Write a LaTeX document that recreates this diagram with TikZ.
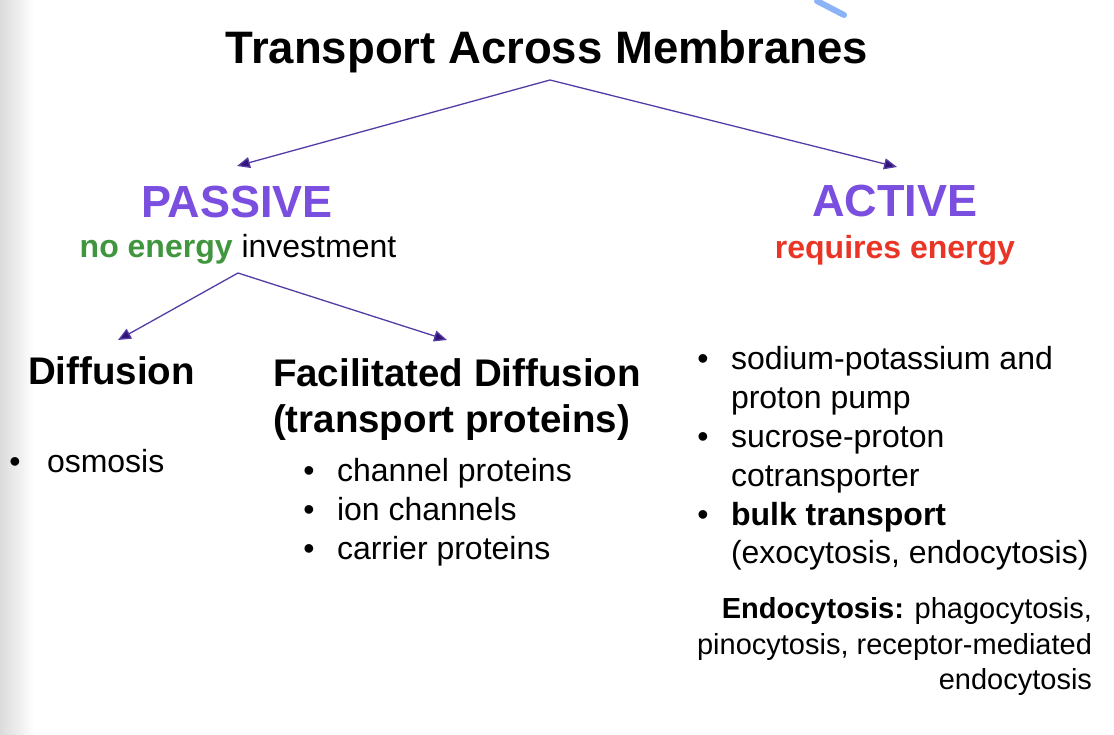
\documentclass[tikz,border=0pt]{standalone}
\usepackage{fontspec}
\setmainfont{Liberation Sans}
\usetikzlibrary{arrows.meta}
\definecolor{purp}{RGB}{122,78,222}
\definecolor{grn}{RGB}{64,150,62}
\definecolor{redt}{RGB}{234,52,38}
\definecolor{arr}{RGB}{85,60,165}
\definecolor{arrhead}{RGB}{50,20,120}
\definecolor{pen}{RGB}{110,160,245}
\begin{document}
\begin{tikzpicture}[x=1pt,y=-1pt,
  txt/.style={inner sep=0pt,outer sep=0pt},
  titletext/.style={txt,font=\fontsize{45.5}{52}\selectfont\bfseries},
  headtext/.style={txt,font=\fontsize{45}{52}\selectfont\bfseries,text=purp},
  subtext/.style={txt,font=\fontsize{32}{38}\selectfont},
  secttext/.style={txt,font=\fontsize{38.5}{46}\selectfont\bfseries},
  itemtext/.style={txt,font=\fontsize{32}{38}\selectfont},
  smalltext/.style={txt,font=\fontsize{29}{35}\selectfont},
  link/.style={draw=arr,line width=1.3pt,-{Triangle[length=13pt,width=11pt,fill=arrhead]}}]
\useasboundingbox (0,0) rectangle (1114,734);
\fill[white] (0,0) rectangle (1114,734);
\shade[left color=black!14,right color=white] (0,0) rectangle (34,734);
\draw[pen,line width=6pt,line cap=round,opacity=0.8] (817,1) -- (844,15);

% title and headings
\node[titletext,anchor=base] (title) at (547,63) {Transport Across Membranes};
\node[headtext,anchor=base] (passive) at (237,217) {PASSIVE};
\node[headtext,anchor=base] (active) at (895,216) {ACTIVE};
\node[subtext,anchor=base] (noen) at (238,257) {\textcolor{grn}{\bfseries no energy} investment};
\node[subtext,anchor=base,text=redt] (reqen) at (895,258) {\bfseries requires energy};

% connectors
\coordinate (t0) at (550,80);
\coordinate (tl) at (237,166);
\coordinate (tr) at (897,167);
\coordinate (p0) at (238,273);
\coordinate (pl) at (118,340);
\coordinate (pr) at (447,340);
\draw[link] (t0) -- (tl);
\draw[link] (t0) -- (tr);
\draw[link] (p0) -- (pl);
\draw[link] (p0) -- (pr);

% passive branches
\node[secttext,anchor=base west] (diff) at (28,384) {Diffusion};
\node[secttext,anchor=base west] (fac1) at (273,386) {Facilitated Diffusion};
\node[secttext,anchor=base west] (fac2) at (273,432) {(transport proteins)};

\node[itemtext,anchor=base] (b0) at (15,472) {•};
\node[itemtext,anchor=base west] (osm) at (47,472) {osmosis};

\node[itemtext,anchor=base] (b1) at (309,481) {•};
\node[itemtext,anchor=base west] (f1) at (337,481) {channel proteins};
\node[itemtext,anchor=base] (b2) at (309,520) {•};
\node[itemtext,anchor=base west] (f2) at (337,520) {ion channels};
\node[itemtext,anchor=base] (b3) at (309,559) {•};
\node[itemtext,anchor=base west] (f3) at (337,559) {carrier proteins};

% active list
\node[itemtext,anchor=base] (a1b) at (703,369) {•};
\node[itemtext,anchor=base west] (a1) at (731,369) {sodium-potassium and};
\node[itemtext,anchor=base west] (a1c) at (731,408) {proton pump};
\node[itemtext,anchor=base] (a2b) at (703,447) {•};
\node[itemtext,anchor=base west] (a2) at (731,447) {sucrose-proton};
\node[itemtext,anchor=base west] (a2c) at (731,486) {cotransporter};
\node[itemtext,anchor=base] (a3b) at (703,525) {•};
\node[itemtext,anchor=base west] (a3) at (731,525) {\bfseries bulk transport};
\node[itemtext,anchor=base west] (a3c) at (731,563) {(exocytosis, endocytosis)};

\node[smalltext,anchor=base east] (e1) at (1092,618) {\bfseries Endocytosis:\mdseries{} phagocytosis,};
\node[smalltext,anchor=base east] (e2) at (1092,654) {pinocytosis, receptor-mediated};
\node[smalltext,anchor=base east] (e3) at (1092,689) {endocytosis};
\end{tikzpicture}
\end{document}
